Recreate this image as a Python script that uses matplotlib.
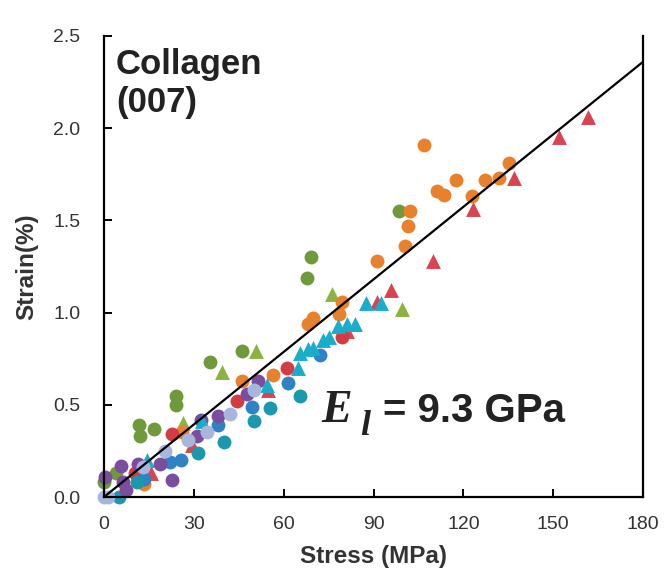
import matplotlib
matplotlib.use("Agg")
import matplotlib.pyplot as plt

plt.rcParams['font.family'] = ['Liberation Sans', 'DejaVu Sans']

# ---- data (stress MPa, strain %) ----
orange_c_x = [106.9, 135.3, 117.6, 127.3, 131.9, 111.2, 113.6, 122.9, 102.2, 101.5, 100.5, 91.2, 79.5, 78.5, 69.8, 68.1, 56.4, 46.1, 26.1, 13.4]
orange_c_y = [1.91, 1.81, 1.72, 1.72, 1.73, 1.66, 1.64, 1.63, 1.55, 1.47, 1.36, 1.28, 1.06, 0.99, 0.97, 0.94, 0.66, 0.63, 0.35, 0.07]

red_t_x = [161.7, 152.0, 137.0, 123.2, 109.9, 95.9, 91.2, 81.2, 54.8, 15.7, 29.4]
red_t_y = [2.06, 1.95, 1.73, 1.56, 1.28, 1.12, 1.06, 0.90, 0.58, 0.13, 0.28]

red_c_x = [79.5, 61.1, 44.4, 22.7, 10.4]
red_c_y = [0.87, 0.70, 0.52, 0.34, 0.13]

green_c_x = [98.5, 69.1, 67.8, 46.1, 35.4, 24.0, 24.0, 11.7, 16.7, 12.0, 4.0, 0.0]
green_c_y = [1.55, 1.30, 1.19, 0.79, 0.73, 0.55, 0.50, 0.39, 0.37, 0.33, 0.13, 0.08]

green_t_x = [76.2, 99.5, 50.8, 39.4, 26.4]
green_t_y = [1.10, 1.02, 0.79, 0.68, 0.40]

cyan_t_x = [87.5, 92.5, 81.2, 83.8, 78.2, 75.2, 73.1, 69.8, 68.1, 65.5, 64.8, 54.4, 32.7, 14.4]
cyan_t_y = [1.05, 1.05, 0.94, 0.94, 0.93, 0.87, 0.85, 0.81, 0.80, 0.78, 0.70, 0.61, 0.41, 0.20]

blue_c_x = [72.1, 61.5, 49.4, 38.1, 25.7, 22.0, 13.4]
blue_c_y = [0.77, 0.62, 0.49, 0.39, 0.20, 0.19, 0.10]

teal_c_x = [65.5, 55.4, 50.1, 40.1, 31.4, 11.0, 5.0]
teal_c_y = [0.55, 0.48, 0.41, 0.30, 0.24, 0.08, 0.00]

purple_c_x = [51.4, 47.8, 38.1, 32.4, 31.1, 22.7, 5.7, 0.3, 11.4, 18.7, 6.3, 7.3]
purple_c_y = [0.63, 0.56, 0.44, 0.42, 0.33, 0.09, 0.17, 0.11, 0.18, 0.18, 0.08, 0.04]

lav_c_x = [50.1, 42.1, 34.4, 28.1, 20.4, 13.0, 0.0, 1.3]
lav_c_y = [0.58, 0.45, 0.35, 0.31, 0.25, 0.16, 0.00, 0.00]

fit_x = [0, 180]
fit_y = [0, 2.36]

x_ticks = [0, 30, 60, 90, 120, 150, 180]
y_ticks = [0.0, 0.5, 1.0, 1.5, 2.0, 2.5]

fig = plt.figure(figsize=(6.65, 5.70), dpi=100)
ax = fig.add_axes([104/665, 1-497/570, (643-104)/665, (497-36)/570])

ms = 100
series = [
    (green_c_x, green_c_y, '#6f9a3b', 'o'),
    (green_t_x, green_t_y, '#8bb33f', '^'),
    (orange_c_x, orange_c_y, '#e8812c', 'o'),
    (red_t_x, red_t_y, '#d94450', '^'),
    (red_c_x, red_c_y, '#d23d45', 'o'),
    (blue_c_x, blue_c_y, '#2f82c4', 'o'),
    (teal_c_x, teal_c_y, '#1b98ad', 'o'),
    (purple_c_x, purple_c_y, '#7a4d9e', 'o'),
    (cyan_t_x, cyan_t_y, '#1aaccb', '^'),
    (lav_c_x, lav_c_y, '#a7b6dc', 'o'),
]
for xs, ys, c, m in series:
    ax.scatter(xs, ys, s=ms if m == 'o' else ms*1.15, c=c, marker=m,
               linewidths=0, zorder=2, clip_on=False)

ax.plot(fit_x, fit_y, color='black', lw=1.6, zorder=3)

ax.set_xlim(0, 180)
ax.set_ylim(0, 2.5)
ax.set_xticks(x_ticks)
ax.set_xticklabels([str(v) for v in x_ticks])
ax.set_yticks(y_ticks)
ax.set_yticklabels([f"{v:.1f}" for v in y_ticks])

for s in ['left', 'bottom', 'right']:
    ax.spines[s].set_linewidth(1.6)
ax.spines['top'].set_visible(False)
ax.tick_params(direction='in', length=6, width=1.4, labelsize=14,
               labelcolor='#333333')
ax.tick_params(axis='x', pad=14)
ax.tick_params(axis='y', pad=17)

ax.set_xlabel('Stress (MPa)', fontsize=17.5, fontweight='bold', color='#333333', labelpad=8)
ax.set_ylabel('Strain(%)', fontsize=17.5, fontweight='bold', color='#333333', labelpad=11)

ax.text(0.022, 0.975, 'Collagen\n(007)', transform=ax.transAxes, fontsize=25,
        fontweight='bold', color='#222222', va='top', ha='left', linespacing=1.2)

ax.text(0.404, 0.162, 'E', transform=ax.transAxes, fontsize=33,
        family='Liberation Serif', style='italic', fontweight='bold',
        color='#222222', va='baseline', ha='left')
ax.text(0.475, 0.135, 'l', transform=ax.transAxes, fontsize=26,
        family='Liberation Serif', style='italic', fontweight='bold',
        color='#222222', va='baseline', ha='left')
ax.text(0.518, 0.162, '= 9.3 GPa', transform=ax.transAxes, fontsize=29,
        fontweight='bold', color='#222222', va='baseline', ha='left')

fig.savefig('out.png', dpi=100)
